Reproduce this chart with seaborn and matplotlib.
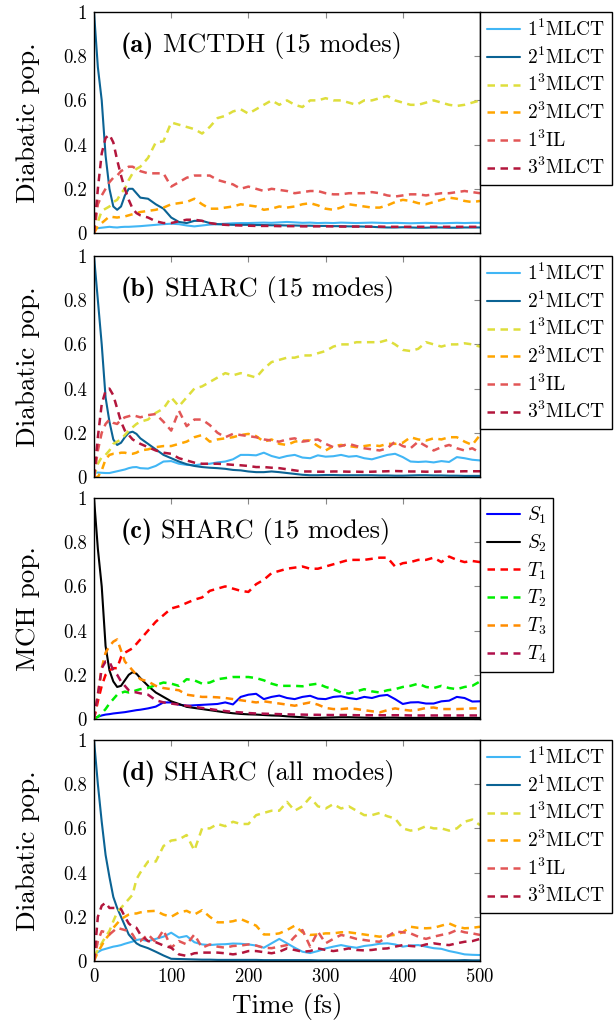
import numpy as np
import matplotlib
matplotlib.use("Agg")
import matplotlib.pyplot as plt
from matplotlib.offsetbox import TextArea, HPacker, AnchoredOffsetbox
import seaborn as sns

# time grid (fs): 5 fs steps up to 60, then 10 fs
T = [0, 5, 10, 15, 20, 25, 30, 35, 40, 45, 50, 55, 60,
     70, 80, 90, 100, 110, 120, 130, 140, 150,
     160, 170, 180, 190, 200, 210, 220, 230, 240, 250,
     260, 270, 280, 290, 300, 310, 320, 330, 340, 350,
     360, 370, 380, 390, 400, 410, 420, 430, 440, 450,
     460, 470, 480, 490, 500]

# ── (a) MCTDH, diabatic ────────────────────────────────────────────────────
a_s11 = [0.03, 0.022, 0.024, 0.026, 0.028, 0.026, 0.025, 0.027, 0.028, 0.028, 0.029, 0.03, 0.031,
         0.034, 0.037, 0.04, 0.042, 0.04, 0.034, 0.03, 0.034, 0.038,
         0.04, 0.042, 0.044, 0.045, 0.045, 0.046, 0.047, 0.046, 0.048, 0.05,
         0.048, 0.046, 0.047, 0.045, 0.046, 0.045, 0.047, 0.046, 0.045, 0.046,
         0.047, 0.046, 0.045, 0.046, 0.045, 0.044, 0.045, 0.046, 0.045, 0.044,
         0.045, 0.046, 0.045, 0.046, 0.046]
a_s21 = [1.0, 0.75, 0.6, 0.35, 0.2, 0.12, 0.105, 0.12, 0.17, 0.2, 0.2, 0.18, 0.16,
         0.155, 0.13, 0.11, 0.07, 0.05, 0.045, 0.055, 0.055, 0.045,
         0.04, 0.038, 0.037, 0.037, 0.037, 0.036, 0.036, 0.035, 0.035, 0.034,
         0.034, 0.033, 0.033, 0.032, 0.032, 0.031, 0.031, 0.03, 0.03, 0.029,
         0.028, 0.026, 0.025, 0.025, 0.026, 0.025, 0.024, 0.024, 0.025, 0.025,
         0.024, 0.024, 0.025, 0.025, 0.025]
a_t13 = [0.0, 0.05, 0.1, 0.11, 0.12, 0.14, 0.15, 0.18, 0.2, 0.24, 0.27, 0.29, 0.3,
         0.34, 0.41, 0.415, 0.5, 0.49, 0.48, 0.47, 0.45, 0.48,
         0.52, 0.53, 0.55, 0.56, 0.54, 0.56, 0.58, 0.6, 0.58, 0.6,
         0.58, 0.57, 0.6, 0.6, 0.61, 0.6, 0.6, 0.59, 0.58, 0.6,
         0.6, 0.61, 0.62, 0.6, 0.59, 0.58, 0.58, 0.59, 0.6, 0.59,
         0.58, 0.575, 0.58, 0.59, 0.6]
a_t23 = [0.0, 0.03, 0.045, 0.06, 0.075, 0.072, 0.07, 0.073, 0.075, 0.08, 0.085, 0.09, 0.095,
         0.1, 0.105, 0.115, 0.13, 0.135, 0.14, 0.155, 0.13, 0.11,
         0.11, 0.115, 0.12, 0.13, 0.125, 0.12, 0.105, 0.11, 0.12, 0.115,
         0.12, 0.13, 0.135, 0.125, 0.11, 0.105, 0.115, 0.13, 0.125, 0.12,
         0.115, 0.115, 0.125, 0.14, 0.15, 0.145, 0.135, 0.13, 0.14, 0.15,
         0.16, 0.155, 0.145, 0.14, 0.145]
a_il = [0.0, 0.13, 0.17, 0.2, 0.23, 0.25, 0.26, 0.28, 0.29, 0.3, 0.3, 0.29, 0.28,
        0.27, 0.27, 0.27, 0.21, 0.23, 0.25, 0.26, 0.26, 0.26,
        0.24, 0.23, 0.22, 0.2, 0.21, 0.2, 0.19, 0.2, 0.195, 0.19,
        0.18, 0.185, 0.19, 0.19, 0.18, 0.175, 0.175, 0.18, 0.18, 0.18,
        0.185, 0.18, 0.17, 0.165, 0.17, 0.175, 0.175, 0.17, 0.175, 0.18,
        0.18, 0.185, 0.19, 0.185, 0.18]
a_t33 = [0.0, 0.2, 0.36, 0.43, 0.445, 0.41, 0.33, 0.26, 0.2, 0.15, 0.11, 0.09, 0.08,
         0.07, 0.053, 0.045, 0.045, 0.053, 0.06, 0.06, 0.055, 0.045,
         0.04, 0.037, 0.035, 0.034, 0.033, 0.032, 0.032, 0.032, 0.031, 0.031,
         0.031, 0.03, 0.03, 0.03, 0.03, 0.03, 0.029, 0.029, 0.029, 0.029,
         0.029, 0.029, 0.028, 0.028, 0.028, 0.028, 0.028, 0.028, 0.028, 0.028,
         0.028, 0.028, 0.028, 0.028, 0.028]

# ── (b) SHARC 15 modes, diabatic ───────────────────────────────────────────
b_s11 = [0.02, 0.02, 0.019, 0.018, 0.018, 0.022, 0.026, 0.03, 0.034, 0.04, 0.044, 0.045, 0.04,
         0.038, 0.05, 0.07, 0.072, 0.06, 0.055, 0.053, 0.058, 0.06,
         0.066, 0.07, 0.08, 0.1, 0.1, 0.098, 0.11, 0.095, 0.086, 0.095,
         0.1, 0.088, 0.085, 0.098, 0.092, 0.094, 0.1, 0.092, 0.095, 0.085,
         0.08, 0.09, 0.1, 0.105, 0.09, 0.07, 0.068, 0.07, 0.066, 0.072,
         0.068, 0.09, 0.085, 0.078, 0.075]
b_s21 = [1.0, 0.8, 0.6, 0.36, 0.25, 0.17, 0.145, 0.155, 0.18, 0.2, 0.205, 0.195, 0.175,
         0.15, 0.125, 0.1, 0.085, 0.07, 0.058, 0.05, 0.045, 0.042,
         0.04, 0.037, 0.032, 0.03, 0.025, 0.022, 0.022, 0.025, 0.022, 0.018,
         0.014, 0.01, 0.008, 0.008, 0.009, 0.009, 0.008, 0.008, 0.008, 0.008,
         0.008, 0.007, 0.007, 0.006, 0.006, 0.007, 0.008, 0.008, 0.007, 0.007,
         0.006, 0.006, 0.005, 0.005, 0.005]
b_t13 = [0.0, 0.06, 0.09, 0.1, 0.12, 0.15, 0.16, 0.17, 0.19, 0.21, 0.225, 0.24, 0.25,
         0.26, 0.29, 0.31, 0.36, 0.32, 0.36, 0.4, 0.41, 0.43,
         0.45, 0.47, 0.46, 0.47, 0.46, 0.45, 0.49, 0.52, 0.53, 0.54,
         0.54, 0.55, 0.55, 0.56, 0.57, 0.59, 0.6, 0.6, 0.61, 0.61,
         0.61, 0.61, 0.62, 0.6, 0.575, 0.57, 0.58, 0.61, 0.6, 0.59,
         0.6, 0.6, 0.605, 0.6, 0.59]
b_t23 = [0.0, 0.0, 0.03, 0.08, 0.1, 0.105, 0.105, 0.11, 0.11, 0.105, 0.105, 0.11, 0.12,
         0.125, 0.135, 0.14, 0.14, 0.15, 0.16, 0.18, 0.19, 0.16,
         0.17, 0.175, 0.18, 0.19, 0.195, 0.185, 0.16, 0.17, 0.15, 0.145,
         0.16, 0.165, 0.165, 0.14, 0.12, 0.14, 0.145, 0.14, 0.135, 0.14,
         0.145, 0.14, 0.15, 0.15, 0.155, 0.18, 0.17, 0.165, 0.175, 0.17,
         0.18, 0.18, 0.16, 0.145, 0.19]
b_il = [0.0, 0.12, 0.2, 0.24, 0.26, 0.245, 0.24, 0.26, 0.27, 0.275, 0.28, 0.275, 0.27,
        0.28, 0.285, 0.25, 0.21, 0.3, 0.23, 0.26, 0.26, 0.235,
        0.2, 0.18, 0.195, 0.19, 0.185, 0.18, 0.17, 0.165, 0.16, 0.17,
        0.175, 0.16, 0.165, 0.17, 0.15, 0.135, 0.14, 0.15, 0.14, 0.13,
        0.125, 0.12, 0.13, 0.16, 0.14, 0.13, 0.16, 0.14, 0.12, 0.135,
        0.145, 0.13, 0.12, 0.13, 0.11]
b_t33 = [0.0, 0.18, 0.33, 0.39, 0.4, 0.37, 0.31, 0.25, 0.21, 0.19, 0.17, 0.16, 0.15,
         0.135, 0.12, 0.11, 0.105, 0.085, 0.075, 0.065, 0.06, 0.06,
         0.06, 0.058, 0.055, 0.053, 0.05, 0.045, 0.045, 0.042, 0.04, 0.035,
         0.03, 0.025, 0.025, 0.024, 0.024, 0.025, 0.025, 0.024, 0.024, 0.023,
         0.024, 0.025, 0.026, 0.027, 0.026, 0.025, 0.025, 0.024, 0.024, 0.025,
         0.025, 0.025, 0.026, 0.026, 0.026]

# ── (c) SHARC 15 modes, MCH ────────────────────────────────────────────────
c_s1 = [0.005, 0.01, 0.016, 0.02, 0.022, 0.025, 0.027, 0.029, 0.031, 0.034, 0.037, 0.04, 0.042,
        0.048, 0.056, 0.075, 0.075, 0.065, 0.06, 0.062, 0.064, 0.066,
        0.068, 0.075, 0.066, 0.1, 0.11, 0.114, 0.09, 0.1, 0.106, 0.095,
        0.09, 0.1, 0.105, 0.092, 0.09, 0.1, 0.103, 0.095, 0.09, 0.1,
        0.095, 0.105, 0.109, 0.09, 0.068, 0.075, 0.076, 0.07, 0.07, 0.08,
        0.083, 0.1, 0.095, 0.079, 0.08]
c_s2 = [1.0, 0.77, 0.6, 0.33, 0.22, 0.17, 0.145, 0.15, 0.175, 0.2, 0.212, 0.205, 0.185,
        0.15, 0.12, 0.1, 0.08, 0.068, 0.055, 0.05, 0.045, 0.04,
        0.035, 0.03, 0.026, 0.023, 0.021, 0.02, 0.018, 0.016, 0.015, 0.012,
        0.01, 0.008, 0.005, 0.005, 0.006, 0.007, 0.008, 0.008, 0.007, 0.006,
        0.005, 0.005, 0.006, 0.006, 0.005, 0.005, 0.005, 0.005, 0.005, 0.005,
        0.005, 0.005, 0.005, 0.005, 0.005]
c_t1 = [0.0, 0.08, 0.15, 0.2, 0.22, 0.23, 0.23, 0.28, 0.3, 0.31, 0.32, 0.34, 0.36,
        0.4, 0.44, 0.47, 0.5, 0.51, 0.525, 0.54, 0.55, 0.58,
        0.59, 0.6, 0.59, 0.58, 0.575, 0.61, 0.63, 0.66, 0.67, 0.68,
        0.685, 0.69, 0.68, 0.68, 0.69, 0.7, 0.71, 0.72, 0.72, 0.72,
        0.725, 0.73, 0.73, 0.69, 0.705, 0.71, 0.72, 0.72, 0.73, 0.71,
        0.735, 0.72, 0.71, 0.715, 0.71]
c_t2 = [0.0, 0.01, 0.025, 0.045, 0.07, 0.09, 0.11, 0.118, 0.124, 0.12, 0.124, 0.13, 0.135,
        0.14, 0.154, 0.165, 0.16, 0.15, 0.18, 0.175, 0.16, 0.165,
        0.18, 0.185, 0.19, 0.19, 0.19, 0.185, 0.175, 0.16, 0.15, 0.15,
        0.15, 0.148, 0.155, 0.16, 0.145, 0.135, 0.12, 0.115, 0.125, 0.135,
        0.125, 0.12, 0.13, 0.135, 0.145, 0.15, 0.16, 0.145, 0.14, 0.15,
        0.14, 0.135, 0.145, 0.15, 0.17]
c_t3 = [0.0, 0.11, 0.23, 0.3, 0.33, 0.35, 0.36, 0.31, 0.26, 0.24, 0.22, 0.2, 0.18,
        0.17, 0.15, 0.14, 0.135, 0.13, 0.11, 0.105, 0.1, 0.1,
        0.098, 0.095, 0.09, 0.085, 0.08, 0.075, 0.08, 0.075, 0.07, 0.065,
        0.06, 0.068, 0.075, 0.065, 0.05, 0.045, 0.045, 0.048, 0.045, 0.04,
        0.035, 0.03, 0.04, 0.048, 0.042, 0.038, 0.042, 0.05, 0.052, 0.045,
        0.045, 0.045, 0.046, 0.048, 0.048]
c_t4 = [0.0, 0.11, 0.23, 0.26, 0.26, 0.22, 0.2, 0.17, 0.15, 0.13, 0.124, 0.12, 0.116,
        0.11, 0.085, 0.075, 0.07, 0.065, 0.06, 0.055, 0.05, 0.045,
        0.04, 0.036, 0.032, 0.03, 0.027, 0.025, 0.024, 0.023, 0.022, 0.021,
        0.02, 0.02, 0.019, 0.019, 0.018, 0.018, 0.018, 0.018, 0.017, 0.017,
        0.017, 0.017, 0.017, 0.017, 0.017, 0.016, 0.016, 0.016, 0.016, 0.016,
        0.016, 0.016, 0.016, 0.016, 0.016]

# ── (d) SHARC all modes, diabatic ──────────────────────────────────────────
d_s11 = [0.03, 0.04, 0.05, 0.055, 0.06, 0.065, 0.068, 0.072, 0.078, 0.083, 0.088, 0.095, 0.098,
         0.09, 0.1, 0.11, 0.128, 0.106, 0.113, 0.085, 0.075, 0.072,
         0.075, 0.076, 0.079, 0.078, 0.075, 0.07, 0.06, 0.08, 0.1, 0.08,
         0.06, 0.042, 0.036, 0.045, 0.057, 0.065, 0.072, 0.065, 0.06, 0.068,
         0.072, 0.078, 0.08, 0.075, 0.065, 0.07, 0.072, 0.065, 0.058, 0.055,
         0.045, 0.038, 0.03, 0.028, 0.027]
d_s21 = [1.0, 0.8, 0.63, 0.48, 0.38, 0.29, 0.24, 0.2, 0.16, 0.12, 0.1, 0.08, 0.07,
         0.058, 0.042, 0.025, 0.01, 0.009, 0.008, 0.007, 0.006, 0.006,
         0.005, 0.005, 0.005, 0.005, 0.005, 0.005, 0.004, 0.004, 0.004, 0.004,
         0.004, 0.004, 0.004, 0.003, 0.003, 0.003, 0.003, 0.003, 0.003, 0.003,
         0.003, 0.003, 0.003, 0.003, 0.003, 0.003, 0.003, 0.003, 0.003, 0.003,
         0.003, 0.003, 0.004, 0.003, 0.003]
d_t13 = [0.02, 0.05, 0.08, 0.11, 0.136, 0.18, 0.22, 0.24, 0.26, 0.28, 0.3, 0.37, 0.4,
         0.45, 0.45, 0.52, 0.545, 0.55, 0.57, 0.5, 0.6, 0.6,
         0.62, 0.61, 0.63, 0.62, 0.62, 0.66, 0.67, 0.68, 0.68, 0.72,
         0.68, 0.7, 0.74, 0.7, 0.69, 0.71, 0.69, 0.7, 0.68, 0.66,
         0.66, 0.67, 0.655, 0.645, 0.6, 0.59, 0.595, 0.61, 0.6, 0.6,
         0.59, 0.6, 0.63, 0.64, 0.615]
d_t23 = [0.0, 0.04, 0.07, 0.1, 0.12, 0.15, 0.17, 0.19, 0.2, 0.21, 0.215, 0.215, 0.22,
         0.225, 0.227, 0.21, 0.2, 0.22, 0.227, 0.21, 0.23, 0.2,
         0.175, 0.175, 0.18, 0.19, 0.175, 0.16, 0.12, 0.12, 0.125, 0.14,
         0.16, 0.13, 0.118, 0.12, 0.125, 0.125, 0.13, 0.13, 0.125, 0.12,
         0.115, 0.11, 0.115, 0.118, 0.13, 0.155, 0.15, 0.148, 0.15, 0.16,
         0.17, 0.155, 0.148, 0.15, 0.155]
d_il = [0.0, 0.09, 0.135, 0.13, 0.12, 0.135, 0.15, 0.145, 0.14, 0.136, 0.12, 0.09, 0.09,
        0.12, 0.085, 0.14, 0.06, 0.09, 0.075, 0.12, 0.06, 0.075,
        0.065, 0.06, 0.068, 0.07, 0.075, 0.07, 0.06, 0.058, 0.065, 0.072,
        0.11, 0.14, 0.065, 0.133, 0.08, 0.1, 0.118, 0.11, 0.1, 0.095,
        0.09, 0.087, 0.11, 0.133, 0.13, 0.125, 0.11, 0.1, 0.11, 0.118,
        0.125, 0.14, 0.13, 0.125, 0.118]
d_t33 = [0.0, 0.2, 0.25, 0.264, 0.24, 0.24, 0.24, 0.235, 0.2, 0.17, 0.155, 0.15, 0.12,
         0.09, 0.085, 0.07, 0.06, 0.03, 0.023, 0.035, 0.038, 0.038,
         0.038, 0.035, 0.03, 0.035, 0.045, 0.045, 0.04, 0.035, 0.042, 0.057,
         0.05, 0.042, 0.045, 0.057, 0.05, 0.045, 0.05, 0.057, 0.05, 0.048,
         0.05, 0.055, 0.057, 0.065, 0.072, 0.068, 0.065, 0.075, 0.08, 0.075,
         0.072, 0.08, 0.087, 0.09, 0.1]

diab_labels = ["1$^1$MLCT", "2$^1$MLCT", "1$^3$MLCT", "2$^3$MLCT", "1$^3$IL", "3$^3$MLCT"]
mch_labels = ["$S_1$", "$S_2$", "$T_1$", "$T_2$", "$T_3$", "$T_4$"]
diab_colors = ["#41b6f5", "#0b6394", "#dede3c", "#ffa500", "#e25656", "#b3163c"]
mch_colors = ["#0000ff", "#000000", "#ff0000", "#00ee00", "#ff8c00", "#b0104c"]
styles = ["-", "-", "--", "--", "--", "--"]

xticks = [0, 100, 200, 300, 400, 500]
yticks = [0, 0.2, 0.4, 0.6, 0.8, 1]
ytick_labels = ["0", "0.2", "0.4", "0.6", "0.8", "1"]

panels = [
    ("(a)", "MCTDH (15 modes)", "Diabatic pop.",
     [a_s11, a_s21, a_t13, a_t23, a_il, a_t33], diab_labels, diab_colors),
    ("(b)", "SHARC (15 modes)", "Diabatic pop.",
     [b_s11, b_s21, b_t13, b_t23, b_il, b_t33], diab_labels, diab_colors),
    ("(c)", "SHARC (15 modes)", "MCH pop.",
     [c_s1, c_s2, c_t1, c_t2, c_t3, c_t4], mch_labels, mch_colors),
    ("(d)", "SHARC (all modes)", "Diabatic pop.",
     [d_s11, d_s21, d_t13, d_t23, d_il, d_t33], diab_labels, diab_colors),
]

sns.set_theme(style="white")
plt.rcParams.update({
    "font.family": "serif",
    "font.serif": ["cmr10"],
    "mathtext.fontset": "cm",
    "axes.formatter.use_mathtext": True,
    "lines.dashed_pattern": [3.0, 2.2],
    "axes.edgecolor": "black",
    "axes.linewidth": 1.0,
    "text.color": "black",
    "axes.labelcolor": "black",
    "xtick.color": "black",
    "ytick.color": "black",
})

fig = plt.figure(figsize=(6.16, 10.24), dpi=100)
left, width, height = 94 / 616, 386 / 616, 221 / 1024
tops = [12, 256, 498, 740]

for k, (tag, title, ylab, series, labels, colors) in enumerate(panels):
    ax = fig.add_axes([left, 1 - (tops[k] + 221) / 1024, width, height])
    for vals, lab, col, ls in zip(series, labels, colors, styles):
        sns.lineplot(x=T, y=vals, ax=ax, color=col, linestyle=ls,
                     lw=1.5 if ls == "-" else 1.8, label=lab)
    ax.set_xlim(0, 500)
    ax.set_ylim(0, 1)
    ax.set_xticks(xticks)
    ax.set_yticks(yticks)
    ax.set_yticklabels(ytick_labels)
    ax.tick_params(direction="in", top=True, right=True, length=4.5, width=0.8,
                   color="#888888", labelsize=13.5, pad=5, labelcolor="black")
    if k < 3:
        ax.set_xticklabels([])
    else:
        ax.set_xlabel("Time (fs)", fontsize=19.5, labelpad=5)
    ax.set_ylabel(ylab, fontsize=19.5)
    ax.yaxis.set_label_coords(-0.14, 0.5)

    # panel title: bold tag + roman text
    box = HPacker(children=[TextArea(tag, textprops=dict(family="cmb10", fontsize=19, color="black")),
                            TextArea(title, textprops=dict(family="cmr10", fontsize=19, color="black"))],
                  sep=6, pad=0, align="baseline")
    anc = AnchoredOffsetbox(loc="center left", child=box, pad=0, borderpad=0, frameon=False,
                            bbox_to_anchor=(0.07, 0.85), bbox_transform=ax.transAxes)
    ax.add_artist(anc)

    leg = ax.legend(loc="upper left", bbox_to_anchor=(1.0, 1.0), borderaxespad=0,
                    fontsize=14, frameon=True, fancybox=False, framealpha=1,
                    handlelength=1.7, handletextpad=0.35, labelspacing=0.33,
                    borderpad=0.35, labelcolor="black")
    leg.get_frame().set_edgecolor("black")
    leg.get_frame().set_linewidth(1.0)

plt.savefig("out.png", dpi=100)
print("Saved → out.png")
